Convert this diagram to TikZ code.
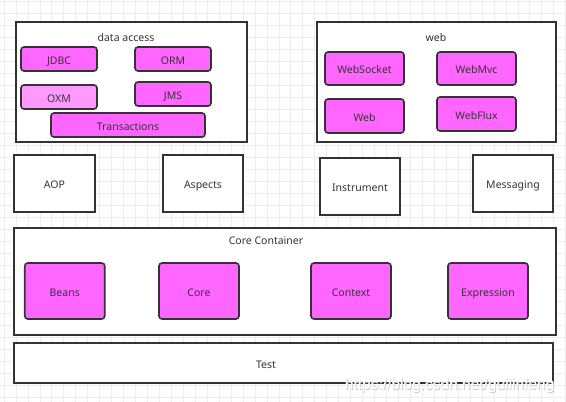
\documentclass[tikz,border=0pt]{standalone}
\usepackage{fontspec}
\setmainfont{Noto Sans}
\newfontfamily\wmfont{Liberation Sans}
\definecolor{pinkbox}{HTML}{FF66FF}
\definecolor{pinklight}{HTML}{FF99FF}
\definecolor{edge}{HTML}{333333}
\definecolor{txt}{HTML}{333333}
\definecolor{gridc}{HTML}{EDEDED}
\begin{document}
\begin{tikzpicture}[x=1pt,y=-1pt,
  every node/.style={font=\fontsize{10.5}{12}\selectfont, text=txt, text height=10.5pt, text depth=0pt},
  group/.style={draw=edge, line width=1.6pt, fill=white, minimum width=#1, inner sep=0pt},
  plainbox/.style={draw=edge, line width=1.6pt, fill=white, minimum width=80pt, minimum height=57pt, inner sep=0pt},
  mod/.style={draw=edge, line width=1.6pt, fill=pinkbox, rounded corners=3pt, inner sep=0pt},
  gridline/.style={draw=gridc, line width=0.7pt},
  title/.style={inner sep=0pt}]
\useasboundingbox (0,0) rectangle (566,402);
\fill[white] (0,0) rectangle (566,402);
\foreach \i in {0,...,47} {\draw[gridline] ({4+\i*11.95},0) -- ({4+\i*11.95},402);}
\foreach \i in {0,...,33} {\draw[gridline] (0,{1.7+\i*12}) -- (566,{1.7+\i*12});}

% data access
\node[group=231pt, minimum height=120pt] (da) at (131.35,82) {};
\node[title] (datitle) at (126,36) {data access};
\node[mod, minimum width=76pt, minimum height=24pt] (jdbc) at (59,59) {JDBC};
\node[mod, minimum width=76pt, minimum height=24pt] (orm) at (173,59) {ORM};
\node[mod, fill=pinklight, minimum width=76pt, minimum height=24pt] (oxm) at (59,97) {OXM};
\node[mod, minimum width=76pt, minimum height=24pt] (jms) at (173,94) {JMS};
\node[mod, minimum width=154pt, minimum height=24pt] (tx) at (128,125) {Transactions};

% web
\node[group=239pt, minimum height=120pt] (web) at (436.5,82) {};
\node[title] (webtitle) at (436,36) {web};
\node[mod, minimum width=79pt, minimum height=33pt] (ws) at (364.5,68.5) {WebSocket};
\node[mod, minimum width=79pt, minimum height=33pt] (wmvc) at (476.5,68.5) {WebMvc};
\node[mod, minimum width=79pt, minimum height=34pt] (wb) at (364.5,116) {Web};
\node[mod, minimum width=79pt, minimum height=34pt] (wflux) at (476.5,114) {WebFlux};

% middle row
\node[plainbox, minimum width=81pt] (aop) at (54.5,183.5) {AOP};
\node[plainbox] (asp) at (203,183.5) {Aspects};
\node[plainbox] (ins) at (360,186.5) {Instrument};
\node[plainbox] (msg) at (513,183.5) {Messaging};

% core container
\node[group=542pt, minimum height=107pt] (cc) at (285,281.5) {};
\node[title] (cctitle) at (266,239) {Core Container};
\node[mod, minimum width=80pt, minimum height=56pt] (beans) at (64.75,291) {Beans};
\node[mod, minimum width=80pt, minimum height=56pt] (core) at (199,291) {Core};
\node[mod, minimum width=80pt, minimum height=56pt] (ctx) at (351,291) {Context};
\node[mod, minimum width=80pt, minimum height=56pt] (expr) at (488,291) {Expression};

% test
\node[group=539pt, minimum height=40pt] (test) at (283.5,363) {};
\node[title] (testlabel) at (266,363) {Test};

% watermark
\node[font=\wmfont\fontsize{15.5}{16}\selectfont, text=black!22, inner sep=0pt] (wm2) at (450.2,385.2) {https://blog.csdn.net/guilinfeng};
\node[font=\wmfont\fontsize{15.5}{16}\selectfont, text=white, inner sep=0pt] (wm) at (449.5,384.5) {https://blog.csdn.net/guilinfeng};
\end{tikzpicture}
\end{document}
